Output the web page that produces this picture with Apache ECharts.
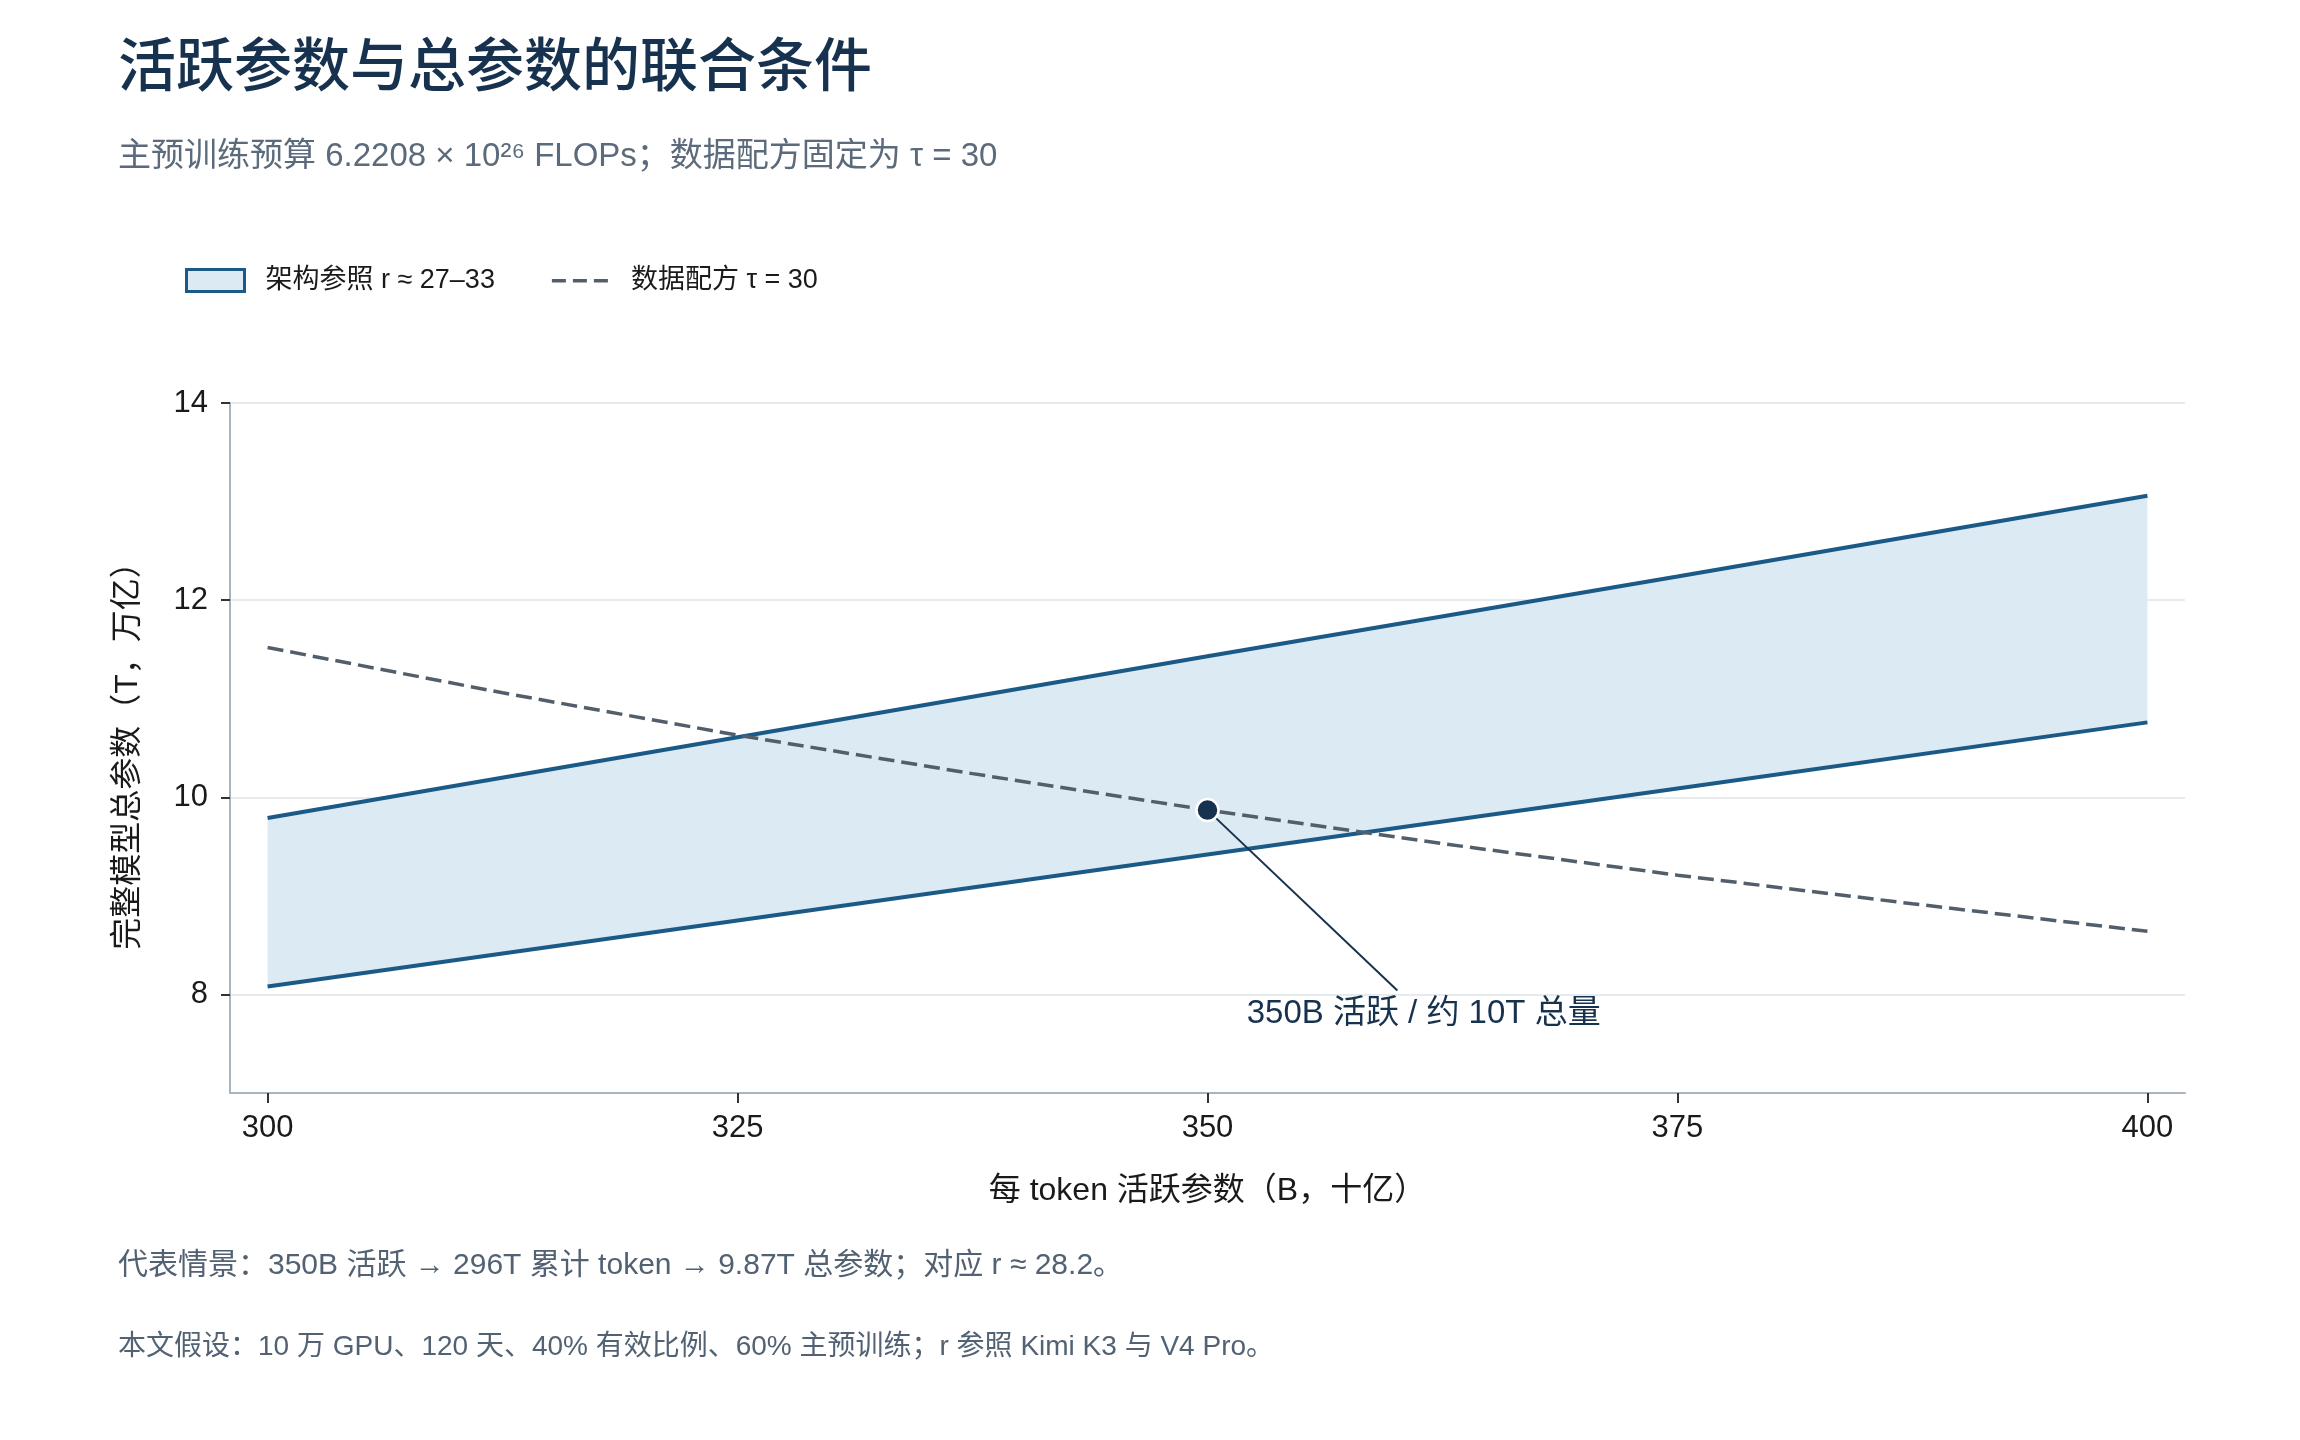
<!DOCTYPE html>
<html>
<head>
<meta charset="utf-8">
<script src="https://cdn.jsdelivr.net/npm/echarts@6/dist/echarts.min.js"></script>
<style>
  html, body {margin:0; padding:0; background:#fff; overflow:hidden;}
  #main {width:2300px; height:1440px;}
</style>
</head>
<body>
<div id="main"></div>
<script>
// 每 token 活跃参数（B）
const activeB = [300, 325, 350, 375, 400];
// 架构参照带：上下边界（T）
const upperT = [9.79, 10.61, 11.43, 12.24, 13.06];
const lowerT = [8.08, 8.75, 9.42, 10.09, 10.76];
// 数据配方 τ = 30 曲线
const recipeB = [300, 312.5, 325, 337.5, 350, 362.5, 375, 387.5, 400];
const recipeT = [11.52, 11.06, 10.63, 10.24, 9.87, 9.53, 9.21, 8.92, 8.64];
// 代表情景
const scenario = [350, 9.87];
const scenarioLabelAt = [361.5, 7.80];
const scenarioLineEnd = [360.1, 8.04];
const scenarioText = '350B 活跃 / 约 10T 总量';

const xTicks = [300, 325, 350, 375, 400];
const yTicks = [8, 10, 12, 14];

const FONT = '"Liberation Sans", "Noto Sans CJK SC", sans-serif';
const BLUE = '#1b5a87';
const FILL = '#dceaf3';
const SLATE = '#535e6b';
const NAVY = '#17324f';

const bandName = '架构参照 r ≈ 27–33';
const recipeName = '数据配方 τ = 30';

let myChart = echarts.init(document.getElementById('main'));

// 带状区域：上边界正向 + 下边界反向 组成多边形
function renderBand(params, api) {
  if (params.dataIndex !== 0) return;
  let pts = [];
  for (let i = 0; i < activeB.length; i++) pts.push(api.coord([activeB[i], upperT[i]]));
  for (let i = activeB.length - 1; i >= 0; i--) pts.push(api.coord([activeB[i], lowerT[i]]));
  return {type: 'polygon', shape: {points: pts}, style: {fill: FILL}};
}

let option = {
  animation: false,
  backgroundColor: '#fff',
  textStyle: {fontFamily: FONT},
  title: [
    {text: '活跃参数与总参数的联合条件', left: 118, top: 41, padding: 0,
     textStyle: {fontSize: 58, lineHeight: 58, fontWeight: 500, color: '#16324f', fontFamily: FONT}},
    {text: '主预训练预算 6.2208 × 10²⁶ FLOPs；数据配方固定为 τ = 30', left: 118, top: 140, padding: 0,
     textStyle: {fontSize: 33, lineHeight: 33, fontWeight: 'normal', color: '#5b6b7b', fontFamily: FONT}},
    {text: '代表情景：350B 活跃 → 296T 累计 token → 9.87T 总参数；对应 r ≈ 28.2。', left: 118, top: 1251, padding: 0,
     textStyle: {fontSize: 30, lineHeight: 30, fontWeight: 'normal', color: '#526273', fontFamily: FONT}},
    {text: '本文假设：10 万 GPU、120 天、40% 有效比例、60% 主预训练；r 参照 Kimi K3 与 V4 Pro。', left: 118, top: 1333, padding: 0,
     textStyle: {fontSize: 28, lineHeight: 28, fontWeight: 'normal', color: '#526273', fontFamily: FONT}}
  ],
  legend: {
    left: 185, top: 267, padding: 0,
    itemWidth: 58, itemHeight: 22, itemGap: 57,
    selectedMode: false,
    textStyle: {fontSize: 27, color: '#1a1a1a', fontFamily: FONT, padding: [0, 0, 0, 16]},
    data: [
      {name: bandName, icon: 'rect',
       itemStyle: {color: FILL, borderColor: BLUE, borderWidth: 3}},
      {name: recipeName,
       icon: 'path://M0,0h0.1v0.1h-0.1z M0,9.5h14v3.5h-14z M21,9.5h14v3.5h-14z M42,9.5h14v3.5h-14z M57.9,21.9h0.1v0.1h-0.1z',
       itemStyle: {color: SLATE, borderWidth: 0}}
    ]
  },
  grid: {left: 230, right: 115, top: 403, bottom: 347},
  xAxis: {
    type: 'value', min: 298, max: 402,
    name: '每 token 活跃参数（B，十亿）', nameLocation: 'middle', nameGap: 82,
    nameTextStyle: {fontSize: 32, color: '#1a1a1a', fontFamily: FONT},
    axisLine: {show: true, lineStyle: {color: '#a8b4c0', width: 2}},
    axisTick: {show: true, length: 10, customValues: xTicks, lineStyle: {color: '#333', width: 2}},
    axisLabel: {customValues: xTicks, fontSize: 31, color: '#1a1a1a', margin: 20, fontFamily: FONT},
    splitLine: {show: false}
  },
  yAxis: {
    type: 'value', min: 7, max: 14,
    name: '完整模型总参数（T，万亿）', nameLocation: 'middle', nameGap: 86,
    nameTextStyle: {fontSize: 32, color: '#1a1a1a', fontFamily: FONT},
    axisLine: {show: true, lineStyle: {color: '#a8b4c0', width: 2}},
    axisTick: {show: true, length: 9, customValues: yTicks, lineStyle: {color: '#333', width: 2}},
    axisLabel: {customValues: yTicks, fontSize: 31, color: '#1a1a1a', margin: 22, fontFamily: FONT},
    splitLine: {show: true, lineStyle: {color: '#e6ebf0', width: 2}}
  },
  series: [
    {
      name: bandName, type: 'custom', z: 1,
      renderItem: renderBand,
      itemStyle: {color: FILL},
      encode: {x: 0, y: 1},
      data: activeB.map((x, i) => [x, lowerT[i]])
    },
    {
      name: 'upper', type: 'line', z: 3,
      symbol: 'none',
      lineStyle: {color: BLUE, width: 4},
      data: activeB.map((x, i) => [x, upperT[i]])
    },
    {
      name: 'lower', type: 'line', z: 3,
      symbol: 'none',
      lineStyle: {color: BLUE, width: 4},
      data: activeB.map((x, i) => [x, lowerT[i]])
    },
    {
      name: recipeName, type: 'line', z: 4,
      symbol: 'none',
      lineStyle: {color: SLATE, width: 3.5, type: [16, 7]},
      itemStyle: {color: SLATE},
      data: recipeB.map((x, i) => [x, recipeT[i]]),
      markLine: {
        silent: true, symbol: 'none', z: 5,
        lineStyle: {color: NAVY, width: 2, type: 'solid'},
        label: {show: false},
        data: [[{coord: scenario}, {coord: scenarioLineEnd}]]
      }
    },
    {
      name: 'scenario', type: 'scatter', z: 6,
      symbol: 'circle', symbolSize: 22,
      itemStyle: {color: NAVY, borderColor: '#fff', borderWidth: 2.5, opacity: 1},
      data: [scenario]
    },
    {
      name: 'scenarioLabel', type: 'scatter', z: 6,
      symbolSize: 0,
      itemStyle: {color: NAVY, opacity: 1},
      label: {show: true, position: 'inside', formatter: scenarioText,
              fontSize: 33, color: NAVY, opacity: 1, fontFamily: FONT,
              textBorderWidth: 0, textBorderColor: 'transparent'},
      data: [scenarioLabelAt]
    }
  ]
};

myChart.setOption(option);
window.onresize = myChart.resize;
</script>
</body>
</html>
